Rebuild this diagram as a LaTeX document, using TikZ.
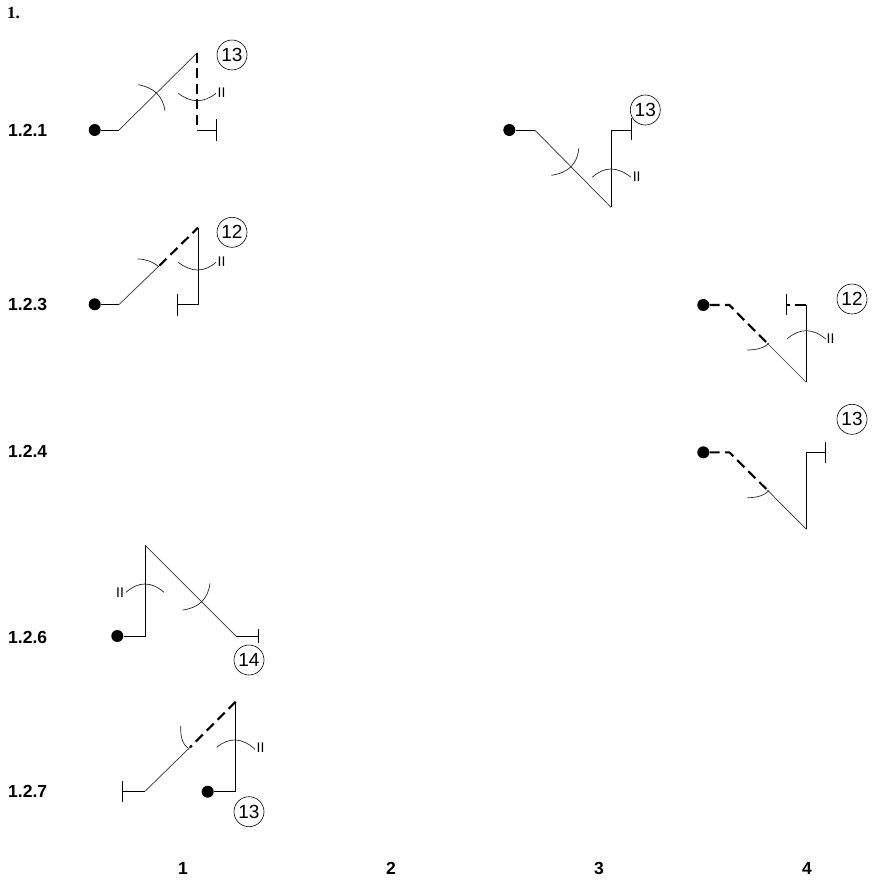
\documentclass[tikz,border=0pt]{standalone}
\usepackage{fontspec}
\setmainfont{Liberation Sans}
\newfontfamily\serifbold{Liberation Serif}
\usetikzlibrary{calc}
\tikzset{
  x=1pt,y=-1pt,
  dot/.style={circle,fill=black,draw=none,inner sep=0pt,minimum size=12pt},
  tag/.style={circle,draw=black,line width=0.6pt,inner sep=0pt,minimum size=30pt,font=\fontsize{19}{19}\selectfont},
  rowlabel/.style={inner sep=0pt,font=\fontsize{17.5}{17.5}\selectfont\bfseries},
  mark2/.style={inner sep=0pt,font=\fontsize{14}{14}\selectfont},
  thinline/.style={line width=0.7pt,draw=black!80},
  solidline/.style={line width=1pt,draw=black},
  dashline/.style={line width=2.1pt,draw=black,dash pattern=on 10pt off 5.5pt},
  tick/.style={line width=1pt,draw=black},
  arcline/.style={line width=0.7pt,draw=black!85}
}
\newcommand{\arcthru}[3]{\draw[arcline] #1 .. controls ($1.3333*#2-0.3333*#3$) and ($1.3333*#2-0.3333*#1$) .. #3;}
\begin{document}
\begin{tikzpicture}
\useasboundingbox (0,0) rectangle (883,889);
% labels
\node[anchor=west,inner sep=0pt,font=\fontsize{17}{17}\selectfont\serifbold\bfseries] (title) at (7,13) {1.};
\node[rowlabel,anchor=west] (r1) at (8,130) {1.2.1};
\node[rowlabel,anchor=west] (r3) at (8,304) {1.2.3};
\node[rowlabel,anchor=west] (r4) at (8,451) {1.2.4};
\node[rowlabel,anchor=west] (r6) at (8,637) {1.2.6};
\node[rowlabel,anchor=west] (r7) at (8,791) {1.2.7};
\node[rowlabel] (c1) at (183,868) {1};
\node[rowlabel] (c2) at (391,868) {2};
\node[rowlabel] (c3) at (599,868) {3};
\node[rowlabel] (c4) at (807,868) {4};

% 1.2.1 col 1
\node[dot] (a0) at (94.7,130) {};
\coordinate (a1) at (119,130);
\coordinate (a2) at (197.3,52.7);
\coordinate (a3) at (197.3,130);
\coordinate (a4) at (216.5,130);
\draw[solidline] (a0) -- (a1);
\draw[thinline] (a1) -- (a2);
\draw[dashline] (a2) -- (a3);
\draw[solidline] (a3) -- (a4);
\draw[tick] (216.5,119) -- (216.5,141);
\node[tag] (a5) at (232,55) {13};
\arcthru{(138.3,84.7)}{(156.7,93.3)}{(165,110.7)}
\arcthru{(178.3,93.3)}{(197.3,100.7)}{(216,93.3)}
\node[mark2] (a6) at (221.5,93) {II};

% 1.2.1 col 3
\node[dot] (b0) at (509.3,130) {};
\coordinate (b1) at (534.7,130);
\coordinate (b2) at (611,207.3);
\coordinate (b3) at (611,130);
\coordinate (b4) at (631.7,130);
\draw[solidline] (b0) -- (b1);
\draw[thinline] (b1) -- (b2);
\draw[solidline] (b2) -- (b3) -- (b4);
\draw[tick] (631.7,118.3) -- (631.7,140);
\node[tag,fill=white] (b5) at (645.3,110) {13};
\arcthru{(551.3,175.3)}{(571,166.7)}{(578.7,148.3)}
\arcthru{(592.3,177.3)}{(611,169)}{(631,177.3)}
\node[mark2] (b6) at (636.7,176.7) {II};

% 1.2.3 col 1
\node[dot] (c0) at (94.7,304.3) {};
\coordinate (c1p) at (119.3,304.3);
\coordinate (c2p) at (159.3,265.7);
\coordinate (c3p) at (198,227.7);
\coordinate (c4p) at (198,304.3);
\coordinate (c5p) at (177.3,304.3);
\draw[solidline] (c0) -- (c1p);
\draw[thinline] (c1p) -- (c2p);
\draw[dashline] (c2p) -- (c3p);
\draw[solidline] (c3p) -- (c4p) -- (c5p);
\draw[tick] (177.3,294.3) -- (177.3,315.7);
\node[tag] (c6) at (232,232.3) {12};
\arcthru{(137.7,259)}{(149,261)}{(158.7,266.7)}
\arcthru{(178.3,262.3)}{(197.7,270)}{(216,262.3)}
\node[mark2] (c7) at (221.5,261.7) {II};

% 1.2.3 col 4
\node[dot] (d0) at (703.3,305) {};
\coordinate (d1) at (729.3,305);
\coordinate (d2) at (767.3,343.3);
\coordinate (d3) at (806.3,382.3);
\coordinate (d4) at (806.3,305);
\coordinate (d5) at (786.7,305);
\draw[dashline] (d0) -- (d1) -- (d2);
\draw[thinline] (d2) -- (d3);
\draw[solidline] (d3) -- (d4);
\draw[dashline,dash pattern=on 11pt off 5pt] (d4) -- (d5);
\draw[tick] (786.7,294.3) -- (786.7,315.3);
\node[tag] (d6) at (852,299) {12};
\arcthru{(747.3,350)}{(760,348.3)}{(769,343.3)}
\arcthru{(787.3,338.7)}{(806.3,330.7)}{(825.7,339)}
\node[mark2] (d7) at (830.5,338.3) {II};

% 1.2.4 col 4
\node[dot] (e0) at (703.3,452.3) {};
\coordinate (e1) at (729.3,452.3);
\coordinate (e2) at (767.3,490);
\coordinate (e3) at (806.3,529.3);
\coordinate (e4) at (806.3,452.3);
\coordinate (e5) at (825.3,452.3);
\draw[dashline] (e0) -- (e1) -- (e2);
\draw[thinline] (e2) -- (e3);
\draw[solidline] (e3) -- (e4) -- (e5);
\draw[tick] (825.3,442.3) -- (825.3,462.7);
\node[tag] (e6) at (852,419.3) {13};
\arcthru{(747.3,497.7)}{(760,496)}{(769,490.7)}

% 1.2.6 col 1
\node[dot] (f0) at (117.3,636) {};
\coordinate (f1) at (145,636);
\coordinate (f2) at (145,545);
\coordinate (f3) at (236,636);
\coordinate (f4) at (258.3,636);
\draw[solidline] (f0) -- (f1) -- (f2);
\draw[thinline] (f2) -- (f3);
\draw[solidline] (f3) -- (f4);
\draw[tick] (258.3,629) -- (258.3,643.3);
\node[tag] (f5) at (249,660) {14};
\arcthru{(126,592.3)}{(145,584)}{(164,592.3)}
\arcthru{(182.7,610)}{(201.7,601.7)}{(210,583.3)}
\node[mark2] (f6) at (120,592.3) {II};

% 1.2.7 col 1
\node[dot] (g0) at (207.7,791.7) {};
\coordinate (g1) at (235.7,791.7);
\coordinate (g2) at (235.7,701.7);
\coordinate (g3) at (190,747.3);
\coordinate (g4) at (145.3,791);
\coordinate (g5) at (122.3,791);
\draw[solidline] (g0) -- (g1) -- (g2);
\draw[dashline] (g2) -- (g3);
\draw[thinline] (g3) -- (g4);
\draw[solidline] (g4) -- (g5);
\draw[tick] (122.3,781) -- (122.3,801.7);
\node[tag] (g6) at (249,811.7) {13};
\arcthru{(180.7,726)}{(182.3,740)}{(188.3,748.3)}
\arcthru{(216.7,747.3)}{(235.7,740)}{(255,749.3)}
\node[mark2] (g7) at (260.5,747.3) {II};
\end{tikzpicture}
\end{document}
